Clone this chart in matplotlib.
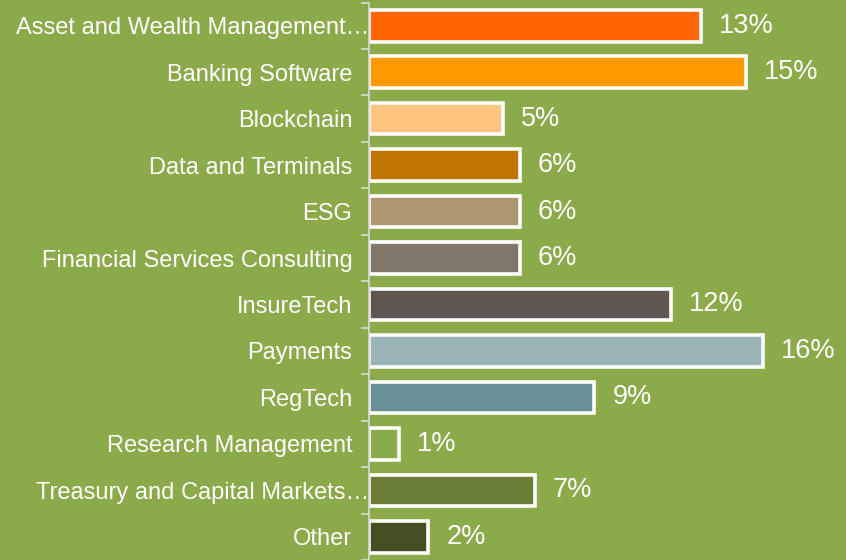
import matplotlib.pyplot as plt
from matplotlib.ticker import FixedLocator, NullLocator
from matplotlib.transforms import ScaledTranslation

categories = ['Asset and Wealth Management…', 'Banking Software', 'Blockchain',
              'Data and Terminals', 'ESG', 'Financial Services Consulting',
              'InsureTech', 'Payments', 'RegTech', 'Research Management',
              'Treasury and Capital Markets…', 'Other']
shares = [13.4, 15.2, 5.4, 6.1, 6.1, 6.1, 12.2, 15.9, 9.1, 1.2, 6.7, 2.4]
share_labels = ['13%', '15%', '5%', '6%', '6%', '6%', '12%', '16%', '9%', '1%', '7%', '2%']
bar_colors = ['#FF6600', '#FF9900', '#FFC580', '#C07400', '#AD9771', '#81766A',
              '#5F574F', '#9AB4B7', '#688F94', '#8BAA4A', '#6A7F36', '#434F23']

bg = '#8BAA4A'

plt.rcParams['font.family'] = ['Liberation Sans', 'DejaVu Sans']

fig = plt.figure(figsize=(8.46, 5.6), dpi=100, facecolor=bg)
ax = fig.add_axes([369 / 846, 0.0, 1 - 369 / 846, 1 - 2.5 / 560])
ax.set_facecolor(bg)

y = list(range(len(categories)))
ax.barh(y, shares, height=0.68, color=bar_colors, edgecolor='white', linewidth=2.6)

for yi, v, lab in zip(y, shares, share_labels):
    ax.text(v + 0.72, yi, lab, va='center', ha='left', color='white', fontsize=19.5)

ax.set_ylim(len(categories) - 0.5, -0.5)
ax.set_xlim(0, 19.25)
ax.set_yticks(y)
ax.set_yticklabels(categories, fontsize=17, color='white')
ax.tick_params(axis='y', which='major', length=0, pad=12)
ax.yaxis.set_minor_locator(FixedLocator([i - 0.5 for i in range(len(categories) + 1)]))
ax.tick_params(axis='y', which='minor', length=6, width=1.2, color='#D9D9D9')
ax.xaxis.set_major_locator(NullLocator())

# truncated names run over the axis line, as in the original
for lbl in ax.get_yticklabels():
    if lbl.get_text().endswith('…'):
        lbl.set_transform(lbl.get_transform() + ScaledTranslation(0.17, 0, fig.dpi_scale_trans))

for side in ['top', 'right', 'bottom']:
    ax.spines[side].set_visible(False)
ax.spines['left'].set_color('#D9D9D9')
ax.spines['left'].set_linewidth(1.2)

fig.savefig('out.png', dpi=100, facecolor=bg)
